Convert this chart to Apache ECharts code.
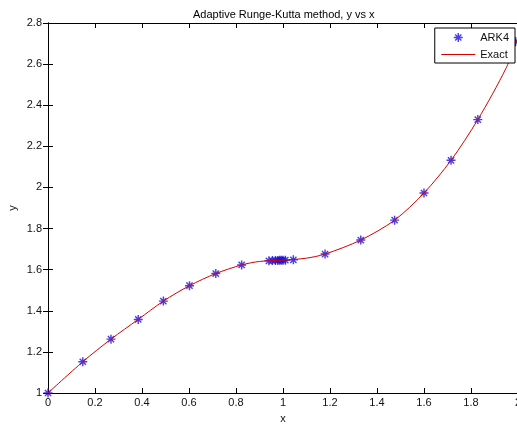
<!DOCTYPE html>
<html>
<head>
<meta charset="utf-8">
<script src="https://cdn.jsdelivr.net/npm/echarts@6/dist/echarts.min.js"></script>
<style>
  html, body { margin: 0; padding: 0; background: #fff; }
  #chart { width: 517px; height: 429px; }
</style>
</head>
<body>
<div id="chart"></div>
<script>
// ARK4 steps
const arkX = [0, 0.148, 0.268, 0.384, 0.491, 0.602, 0.714, 0.824, 0.94, 0.955, 0.968, 0.978, 0.986, 0.993, 1.0, 1.01, 1.044, 1.179, 1.331, 1.475, 1.6, 1.715, 1.829, 1.99]
const arkY = [1, 1.152, 1.262, 1.358, 1.447, 1.522, 1.581, 1.623, 1.643, 1.644, 1.645, 1.645, 1.646, 1.646, 1.646, 1.646, 1.648, 1.676, 1.744, 1.841, 1.973, 2.132, 2.33, 2.71]
// exact solution
const exactX = [0, 0.148, 0.268, 0.384, 0.491, 0.602, 0.714, 0.824, 0.9, 1.0, 1.1, 1.179, 1.331, 1.475, 1.6, 1.715, 1.829, 1.949, 2.0]
const exactY = [1, 1.152, 1.262, 1.358, 1.447, 1.522, 1.581, 1.623, 1.64, 1.646, 1.656, 1.676, 1.744, 1.841, 1.973, 2.132, 2.33, 2.58, 2.73]
const xTicks = [0, 0.2, 0.4, 0.6, 0.8, 1, 1.2, 1.4, 1.6, 1.8, 2]
const yTicks = [1, 1.2, 1.4, 1.6, 1.8, 2, 2.2, 2.4, 2.6, 2.8]

// asterisk marker, like matlab '*'
const star = 'path://M0,4.2L10,4.2L10,5.8L0,5.8Z M4.2,0L5.8,0L5.8,10L4.2,10Z M1,2.1L2.1,1L9,7.9L7.9,9Z M7.9,1L9,2.1L2.1,9L1,7.9Z'

const lbl = { color: '#111', fontSize: 11, fontFamily: 'Liberation Sans' }
const tick = { inside: true, length: 5, lineStyle: { color: '#000' } }
const line = { lineStyle: { color: '#000', width: 1 } }

const chart = echarts.init(document.getElementById('chart'))
chart.setOption({
  animation: false,
  title: {
    text: 'Adaptive Runge-Kutta method, y vs x',
    left: 188, top: 4,
    textStyle: { fontSize: 11, fontWeight: 'normal', color: '#000', fontFamily: 'Liberation Sans' }
  },
  legend: {
    orient: 'vertical',
    right: 2, top: 28,
    backgroundColor: '#fff',
    borderColor: '#000', borderWidth: 1,
    borderRadius: 0,
    padding: [4, 6, 3, 6],
    itemWidth: 34, itemHeight: 9, itemGap: 6,
    textStyle: lbl,
    data: [
      { name: 'ARK4', icon: star },
      { name: 'Exact', itemStyle: { opacity: 0 }, lineStyle: { width: 1, color: '#d40000' } }
    ]
  },
  grid: { left: 48, right: -1, top: 23, bottom: 36, outerBoundsMode: 'none', containLabel: false },
  xAxis: [{
    type: 'value', min: 0, max: 2, interval: 0.2,
    name: 'x', nameLocation: 'middle', nameGap: 20, nameMoveOverlap: false,
    nameTextStyle: lbl,
    axisLine: line, axisTick: tick,
    axisLabel: Object.assign({ margin: 4, showMaxLabel: true }, lbl),
    splitLine: { show: false }
  }, {
    type: 'value', min: 0, max: 2, interval: 0.2, position: 'top',
    axisLine: line, axisTick: tick, axisLabel: { show: false }, splitLine: { show: false }
  }],
  yAxis: [{
    type: 'value', min: 1, max: 2.8, interval: 0.2,
    name: 'y', nameLocation: 'middle', nameGap: 30, nameMoveOverlap: false,
    nameTextStyle: lbl,
    axisLine: line, axisTick: tick,
    axisLabel: Object.assign({ margin: 6 }, lbl),
    splitLine: { show: false }
  }, {
    type: 'value', min: 1, max: 2.8, interval: 0.2, position: 'right',
    axisLine: line, axisTick: tick, axisLabel: { show: false }, splitLine: { show: false }
  }],
  series: [{
    name: 'ARK4',
    type: 'scatter',
    symbol: star, symbolSize: 9,
    itemStyle: { color: '#1a10e0' },
    data: arkX.map((x, i) => [x, arkY[i]]),
    z: 2
  }, {
    name: 'Exact',
    type: 'line',
    symbol: 'none', smooth: 0.3,
    lineStyle: { color: '#d40000', width: 1 },
    itemStyle: { color: '#d40000' },
    data: exactX.map((x, i) => [x, exactY[i]]),
    z: 3
  }]
})
</script>
</body>
</html>
